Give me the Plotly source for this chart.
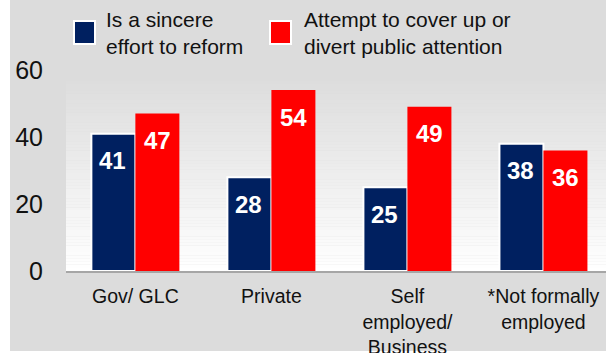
import plotly.graph_objects as go

# ---- data ----
categories = ["Gov/ GLC", "Private", "Self<br>employed/<br>Business", "*Not formally<br>employed"]
series_names = ["Is a sincere<br>effort to reform", "Attempt to cover up or<br>divert public attention"]
sincere = [41, 28, 25, 38]
cover_up = [47, 54, 49, 36]
y_ticks = [0, 20, 40, 60]

# ---- styling ----
W, H = 606, 353
L, R, T, B = 66, 0, 70, 82
PW, PH = W - L - R, H - T - B
BLUE, RED = "#002060", "#FF0000"
FONT = "Liberation Sans, Arial, sans-serif"


def px_x(px):
    return (px - L) / PW


def px_y(py):
    return (H - B - py) / PH


fig = go.Figure()
fig.add_trace(go.Bar(x=categories, y=sincere, name=series_names[0],
                     marker=dict(color=BLUE, line=dict(color="white", width=2)),
                     showlegend=False))
fig.add_trace(go.Bar(x=categories, y=cover_up, name=series_names[1],
                     marker=dict(color=RED, line=dict(width=0)),
                     showlegend=False))

shapes = []
# outer grey panel
shapes.append(dict(type="rect", xref="paper", yref="paper", layer="below",
                   x0=px_x(10), x1=px_x(W), y0=px_y(351), y1=px_y(0),
                   fillcolor="#DCDCDC", line=dict(width=0)))
# gradient plot background (grey at top -> white at bottom)
top_px, bot_px = 81, 271
n = 60
for i in range(n):
    y0 = top_px + (bot_px - top_px) * i / n
    y1 = top_px + (bot_px - top_px) * (i + 1) / n
    t = (i + 0.5) / n
    v = int(round(0xDD + (0xFF - 0xDD) * t))
    c = f"rgb({v},{v},{v})"
    shapes.append(dict(type="rect", xref="paper", yref="paper", layer="below",
                       x0=0, x1=1, y0=px_y(y1) - 0.001, y1=px_y(y0),
                       fillcolor=c, line=dict(width=0)))

# legend swatches
legend_x = [74, 270]
legend_tx = [104, 302]
colors = [BLUE, RED]
annotations = []
for k in range(2):
    shapes.append(dict(type="rect", xref="paper", yref="paper", layer="above",
                       x0=px_x(legend_x[k]), x1=px_x(legend_x[k] + 21),
                       y0=px_y(44), y1=px_y(21),
                       fillcolor=colors[k], line=dict(color="white", width=2)))
    annotations.append(dict(xref="paper", yref="paper", x=px_x(legend_tx[k]), y=px_y(33),
                            xanchor="left", yanchor="middle", align="left",
                            showarrow=False, text=series_names[k],
                            font=dict(family=FONT, size=21, color="#111111")))

# data labels inside bars
for vals, shift in ((sincere, -22.5), (cover_up, 22.5)):
    for cat, v in zip(categories, vals):
        annotations.append(dict(x=cat, y=v, xref="x", yref="y", xshift=shift, yshift=-27,
                                showarrow=False, text=f"<b>{v}</b>",
                                font=dict(family=FONT, size=24, color="white")))

fig.update_layout(
    width=W, height=H,
    margin=dict(l=L, r=R, t=T, b=B, pad=0, autoexpand=False),
    paper_bgcolor="white", plot_bgcolor="rgba(0,0,0,0)",
    barmode="group", bargap=0.353, bargroupgap=0,
    showlegend=False,
    shapes=shapes, annotations=annotations,
    font=dict(family=FONT, color="#111111"),
)
fig.update_xaxes(range=[-0.51, 3.46], showline=True, linecolor="#A6A6A6", linewidth=2,
                 showgrid=False, zeroline=False, ticks="", ticklabelstandoff=7,
                 automargin=False,
                 tickfont=dict(family=FONT, size=19.5, color="#111111"))
fig.update_yaxes(range=[0, 60], tickvals=y_ticks, showgrid=False, zeroline=False,
                 showline=False, ticks="", ticklabelstandoff=22, automargin=False,
                 tickfont=dict(family=FONT, size=25, color="#111111"))

fig.write_html("out.html", config={"displayModeBar": False, "responsive": False},
               post_script="document.body.style.margin='0';document.body.style.overflow='hidden';")
